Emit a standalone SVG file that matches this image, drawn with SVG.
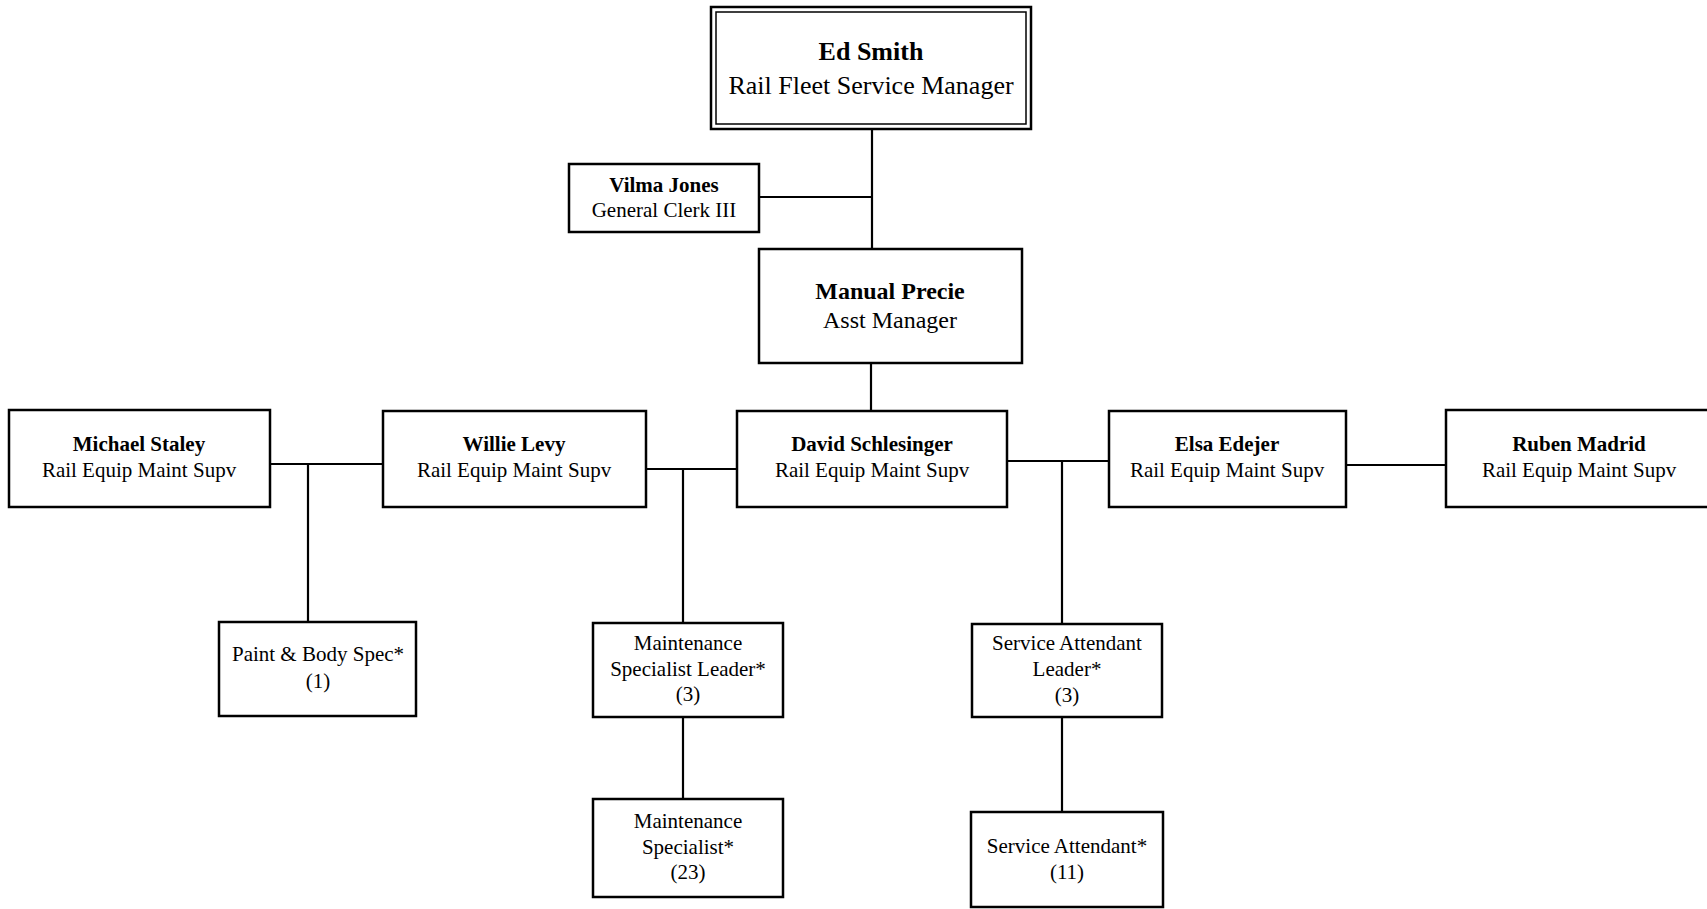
<svg xmlns="http://www.w3.org/2000/svg" width="1707" height="909" viewBox="0 0 1707 909">
<style>
.box{fill:#fff;stroke:#000;stroke-width:2.5}
.inner{fill:none;stroke:#000;stroke-width:1.5}
.ln{fill:none;stroke:#000;stroke-width:2.2}
text{font-family:"Liberation Serif","Times New Roman",serif;fill:#000;text-anchor:middle}
.b{font-weight:bold}
.t26{font-size:26px}
.t24{font-size:24px}
.t21{font-size:21px}
</style>
<rect width="1707" height="909" fill="#fff"/>
<g id="connectors">
<path class="ln" d="M872 129V249"/>
<path class="ln" d="M759 197H872"/>
<path class="ln" d="M871 363V411"/>
<path class="ln" d="M270 464H383M308 464V622"/>
<path class="ln" d="M646 469H737M683 469V623"/>
<path class="ln" d="M683 717V799"/>
<path class="ln" d="M1007 461H1109M1062 461V624"/>
<path class="ln" d="M1062 717V812"/>
<path class="ln" d="M1346 465H1446"/>
</g>
<g id="ed-smith">
<rect class="box" x="711" y="7" width="320" height="122"/>
<rect class="inner" x="716" y="12" width="310" height="112"/>
<text class="b t26" x="871" y="60">Ed Smith</text>
<text class="t26" x="871" y="94">Rail Fleet Service Manager</text>
</g>
<g id="vilma-jones">
<rect class="box" x="569" y="164" width="190" height="68"/>
<text class="b t21" x="664" y="192">Vilma Jones</text>
<text class="t21" x="664" y="217">General Clerk III</text>
</g>
<g id="manual-precie">
<rect class="box" x="759" y="249" width="263" height="114"/>
<text class="b t24" x="890" y="299">Manual Precie</text>
<text class="t24" x="890" y="328">Asst Manager</text>
</g>
<g id="michael-staley">
<rect class="box" x="9" y="410" width="261" height="97"/>
<text class="b t21" x="139" y="451">Michael Staley</text>
<text class="t21" x="139" y="477">Rail Equip Maint Supv</text>
</g>
<g id="willie-levy">
<rect class="box" x="383" y="411" width="263" height="96"/>
<text class="b t21" x="514" y="451">Willie Levy</text>
<text class="t21" x="514" y="477">Rail Equip Maint Supv</text>
</g>
<g id="david-schlesinger">
<rect class="box" x="737" y="411" width="270" height="96"/>
<text class="b t21" x="872" y="451">David Schlesinger</text>
<text class="t21" x="872" y="477">Rail Equip Maint Supv</text>
</g>
<g id="elsa-edejer">
<rect class="box" x="1109" y="411" width="237" height="96"/>
<text class="b t21" x="1227" y="451">Elsa Edejer</text>
<text class="t21" x="1227" y="477">Rail Equip Maint Supv</text>
</g>
<g id="ruben-madrid">
<rect class="box" x="1446" y="410" width="270" height="97"/>
<text class="b t21" x="1579" y="451">Ruben Madrid</text>
<text class="t21" x="1579" y="477">Rail Equip Maint Supv</text>
</g>
<g id="paint-body-spec">
<rect class="box" x="219" y="622" width="197" height="94"/>
<text class="t21" x="318" y="661">Paint &amp; Body Spec*</text>
<text class="t21" x="318" y="688">(1)</text>
</g>
<g id="maint-specialist-leader">
<rect class="box" x="593" y="623" width="190" height="94"/>
<text class="t21" x="688" y="650">Maintenance</text>
<text class="t21" x="688" y="676">Specialist Leader*</text>
<text class="t21" x="688" y="701">(3)</text>
</g>
<g id="maint-specialist">
<rect class="box" x="593" y="799" width="190" height="98"/>
<text class="t21" x="688" y="828">Maintenance</text>
<text class="t21" x="688" y="854">Specialist*</text>
<text class="t21" x="688" y="879">(23)</text>
</g>
<g id="service-attendant-leader">
<rect class="box" x="972" y="624" width="190" height="93"/>
<text class="t21" x="1067" y="650">Service Attendant</text>
<text class="t21" x="1067" y="676">Leader*</text>
<text class="t21" x="1067" y="702">(3)</text>
</g>
<g id="service-attendant">
<rect class="box" x="971" y="812" width="192" height="95"/>
<text class="t21" x="1067" y="853">Service Attendant*</text>
<text class="t21" x="1067" y="879">(11)</text>
</g>
</svg>
